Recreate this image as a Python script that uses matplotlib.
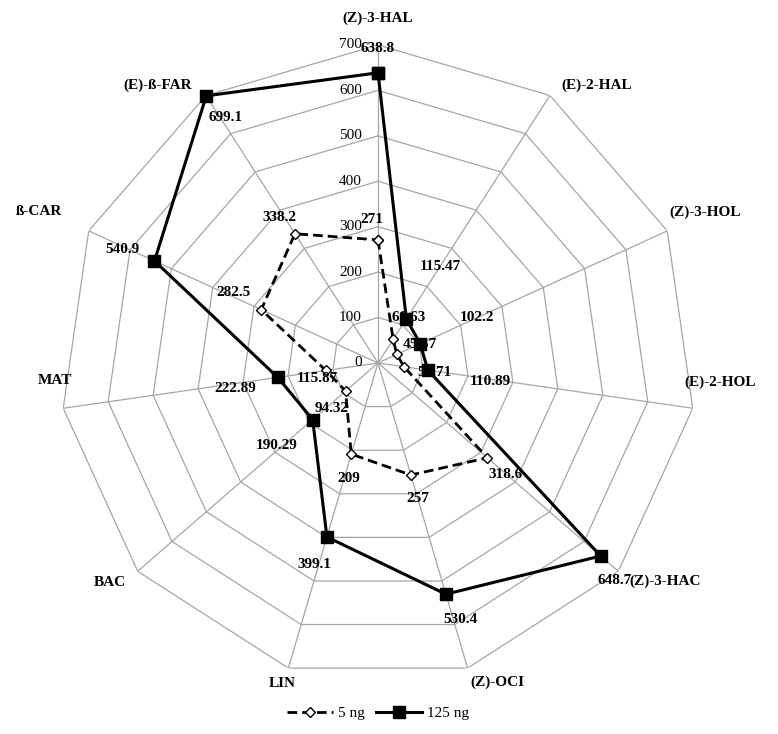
import numpy as np
import matplotlib.pyplot as plt

# compounds, clockwise from the top
compounds = ['(Z)-3-HAL', '(E)-2-HAL', '(Z)-3-HOL', '(E)-2-HOL', '(Z)-3-HAC',
             '(Z)-OCI', 'LIN', 'BAC', 'MAT', 'ß-CAR', '(E)-ß-FAR']
ng5 = [271, 61.63, 45.57, 57.71, 318.6, 257, 209, 94.32, 115.87, 282.5, 338.2]
ng125 = [638.8, 115.47, 102.2, 110.89, 648.7, 530.4, 399.1, 190.29, 222.89, 540.9, 699.1]
ng5_txt = ['271', '61.63', '45.57', '57.71', '318.6', '257', '209', '94.32', '115.87', '282.5', '338.2']
ng125_txt = ['638.8', '115.47', '102.2', '110.89', '648.7', '530.4', '399.1', '190.29', '222.89', '540.9', '699.1']
rings = [0, 100, 200, 300, 400, 500, 600, 700]

# label offsets in pixels (dx, dy up)
off5 = [(-6, 20), (15, 22), (23, 10), (31, -6), (18, -17), (7, -23),
        (-2, -24), (-14, -17), (-9, -8), (-28, 17), (-15, 16)]
off125 = [(0, 24), (34, 52), (57, 26), (62, -11), (14, -25), (14, -25),
          (-12, -28), (-36, -26), (-43, -11), (-32, 11), (19, -22)]
offcat = [(0, 27), (47, 10), (38, 19), (27, 26), (47, -10), (30, -14),
          (-6, -15), (-28, -11), (-8, 28), (-50, 19), (-48, 10)]

plt.rcParams['font.family'] = ['Liberation Serif', 'DejaVu Serif']

n = len(compounds)
theta = np.arange(n) * 2 * np.pi / n
th_c = np.append(theta, theta[0])

fig = plt.figure(figsize=(7.78, 7.34), dpi=100)
ax = fig.add_axes([0.0771, 0.0722, 0.8175, 0.8665], projection='polar')
ax.set_theta_zero_location('N')
ax.set_theta_direction(-1)
ax.set_ylim(0, 700)
ax.grid(False)
ax.set_xticks([])
ax.set_yticks([])
ax.spines['polar'].set_visible(False)

grey = '#a6a6a6'
for r in rings[1:]:
    ax.plot(th_c, [r] * (n + 1), color=grey, lw=0.9, zorder=1)
for t in theta:
    ax.plot([t, t], [0, 700], color=grey, lw=0.9, zorder=1)

for r in rings:
    ax.annotate(str(r), (0, r), xytext=(-16, 0), textcoords='offset pixels',
                ha='right', va='center', fontsize=11)

ax.plot(th_c, ng5 + ng5[:1], color='black', lw=2, linestyle=(0, (3.5, 1.8)),
        marker='D', markersize=5.5, markerfacecolor='white', markeredgecolor='black',
        markeredgewidth=1, label='5 ng', zorder=3, clip_on=False)
ax.plot(th_c, ng125 + ng125[:1], color='black', lw=2.2, marker='s', markersize=8,
        label='125 ng', zorder=4, clip_on=False)

for i in range(n):
    ax.annotate(ng5_txt[i], (theta[i], ng5[i]), xytext=off5[i], textcoords='offset pixels',
                ha='center', va='center', fontsize=11, fontweight='bold', zorder=5)
    ax.annotate(ng125_txt[i], (theta[i], ng125[i]), xytext=off125[i], textcoords='offset pixels',
                ha='center', va='center', fontsize=11, fontweight='bold', zorder=5)
    ax.annotate(compounds[i], (theta[i], 700), xytext=offcat[i], textcoords='offset pixels',
                ha='center', va='center', fontsize=11, fontweight='bold',
                annotation_clip=False)

fig.legend(loc='center', bbox_to_anchor=(378 / 778, 1 - 713 / 734), ncol=2, frameon=False,
           handlelength=3, columnspacing=0.8, handletextpad=0.3, fontsize=11)

fig.savefig('out.png', dpi=100)
